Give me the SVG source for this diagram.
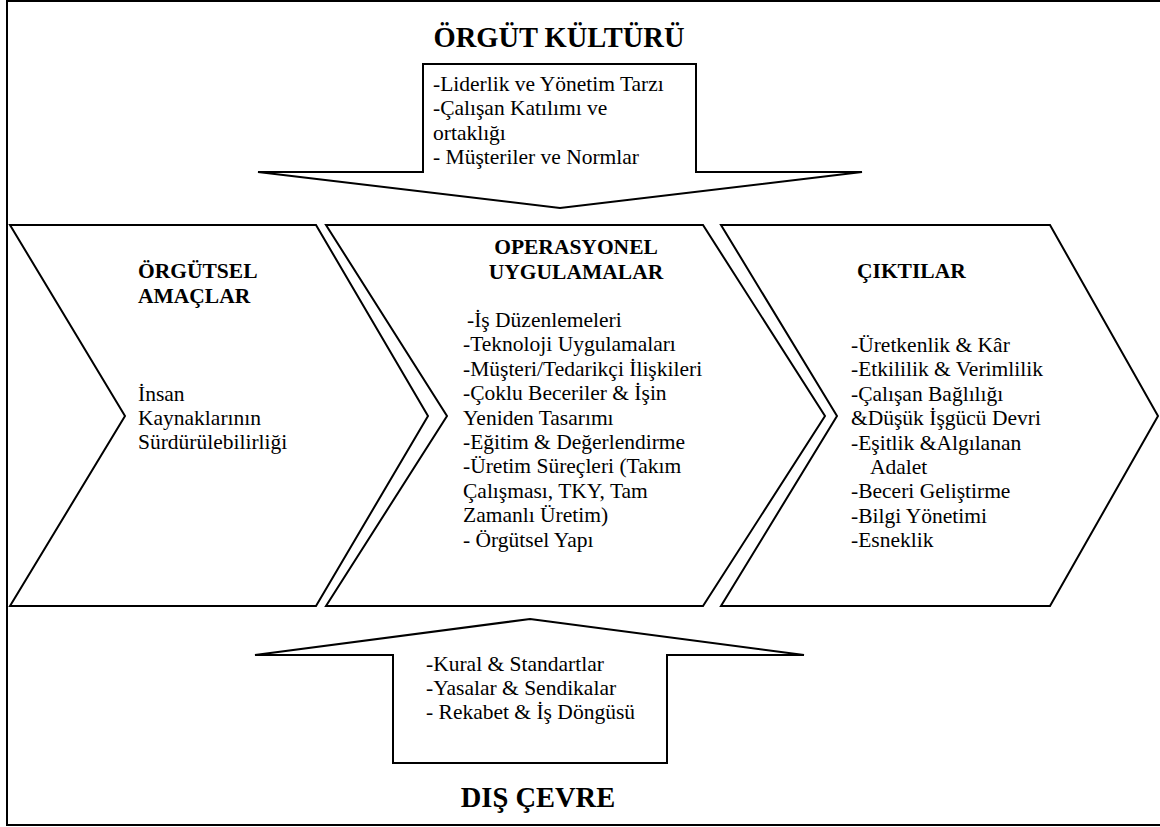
<svg xmlns="http://www.w3.org/2000/svg" width="1160" height="827" viewBox="0 0 1160 827">
  <style>
    .shape { fill: #ffffff; stroke: #000000; stroke-width: 2; stroke-linejoin: miter; }
    .frame { fill: #ffffff; stroke: #000000; stroke-width: 2; }
    text { font-family: 'Liberation Serif', 'DejaVu Serif', serif; fill: #000000; }
    .t { font-size: 21.5px; }
    .b { font-size: 21.5px; font-weight: bold; }
    .big { font-size: 28.5px; font-weight: bold; }
  </style>

  <!-- outer frame -->
  <rect class="frame" x="7" y="1" width="1160" height="824"/>

  <!-- organisational culture: downward arrow -->
  <g id="orgut-kulturu">
    <text class="big" x="559" y="47" text-anchor="middle">ÖRGÜT KÜLTÜRÜ</text>
    <polygon class="shape" points="423,64 696,64 696,172 862,172 560,208 258,172 423,172"/>
    <text class="t" x="433" y="91">-Liderlik ve Yönetim Tarzı</text>
    <text class="t" x="433" y="115.4">-Çalışan Katılımı ve</text>
    <text class="t" x="433" y="139.8">ortaklığı</text>
    <text class="t" x="433" y="164.2">- Müşteriler ve Normlar</text>
  </g>

  <!-- organisational goals -->
  <g id="orgutsel-amaclar">
    <polygon class="shape" points="10,225 316,225 428,416 316,606 10,606 125,416"/>
    <text class="b" x="138" y="278">ÖRGÜTSEL</text>
    <text class="b" x="138" y="303">AMAÇLAR</text>
    <text class="t" x="138" y="401">İnsan</text>
    <text class="t" x="138" y="425">Kaynaklarının</text>
    <text class="t" x="138" y="449">Sürdürülebilirliği</text>
  </g>

  <!-- operational practices -->
  <g id="operasyonel-uygulamalar">
    <polygon class="shape" points="326,225 703,225 825,416 703,606 326,606 447,416"/>
    <text class="b" x="576" y="254" text-anchor="middle">OPERASYONEL</text>
    <text class="b" x="576" y="279" text-anchor="middle">UYGULAMALAR</text>
    <text class="t" x="467" y="327">-İş Düzenlemeleri</text>
    <text class="t" x="463" y="351.4">-Teknoloji Uygulamaları</text>
    <text class="t" x="463" y="375.8">-Müşteri/Tedarikçi İlişkileri</text>
    <text class="t" x="463" y="400.2">-Çoklu Beceriler &amp; İşin</text>
    <text class="t" x="463" y="424.6">Yeniden Tasarımı</text>
    <text class="t" x="463" y="449">-Eğitim &amp; Değerlendirme</text>
    <text class="t" x="463" y="473.4">-Üretim Süreçleri (Takım</text>
    <text class="t" x="463" y="497.8">Çalışması, TKY, Tam</text>
    <text class="t" x="463" y="522.2">Zamanlı Üretim)</text>
    <text class="t" x="463" y="546.6">- Örgütsel Yapı</text>
  </g>

  <!-- outcomes -->
  <g id="ciktilar">
    <polygon class="shape" points="721,225 1050,225 1158,416 1050,606 721,606 837,416"/>
    <text class="b" x="857" y="278">ÇIKTILAR</text>
    <text class="t" x="851" y="352">-Üretkenlik &amp; Kâr</text>
    <text class="t" x="851" y="376.4">-Etkililik &amp; Verimlilik</text>
    <text class="t" x="851" y="400.8">-Çalışan Bağlılığı</text>
    <text class="t" x="851" y="425.2">&amp;Düşük İşgücü Devri</text>
    <text class="t" x="851" y="449.6">-Eşitlik &amp;Algılanan</text>
    <text class="t" x="870" y="474">Adalet</text>
    <text class="t" x="851" y="498.4">-Beceri Geliştirme</text>
    <text class="t" x="851" y="522.8">-Bilgi Yönetimi</text>
    <text class="t" x="851" y="547.2">-Esneklik</text>
  </g>

  <!-- external environment: upward arrow -->
  <g id="dis-cevre">
    <polygon class="shape" points="530,619 804,655 667,655 667,763 393,763 393,655 255,655"/>
    <text class="t" x="426" y="671">-Kural &amp; Standartlar</text>
    <text class="t" x="426" y="695">-Yasalar &amp; Sendikalar</text>
    <text class="t" x="426" y="719">- Rekabet &amp; İş Döngüsü</text>
    <text class="big" x="538" y="807" text-anchor="middle">DIŞ ÇEVRE</text>
  </g>

  <!-- the arrow shapes carry the flow; no separate connector lines -->
  <g id="connectors"/>
</svg>
